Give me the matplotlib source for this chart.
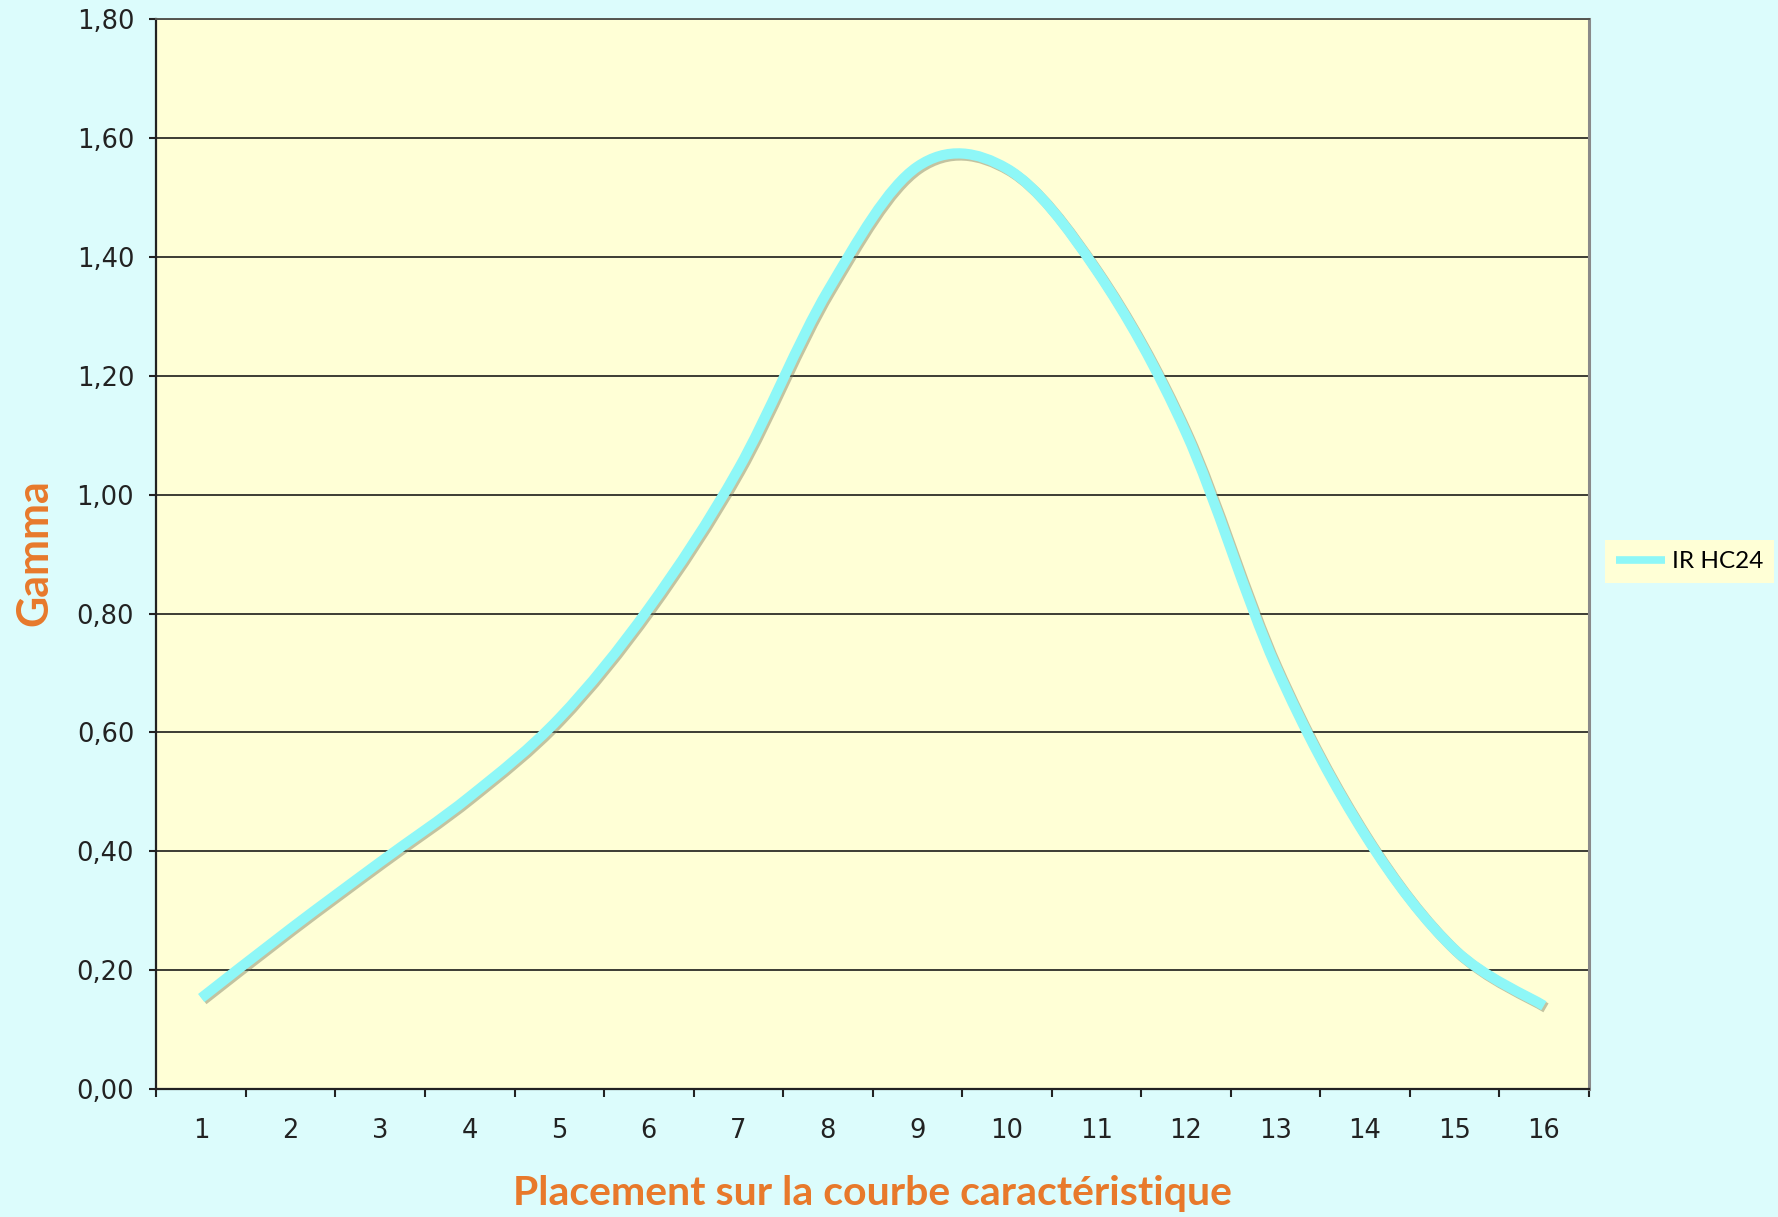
import matplotlib
matplotlib.use("Agg")
import matplotlib.pyplot as plt
import numpy as np
from matplotlib.path import Path
from matplotlib.patches import PathPatch
from matplotlib.lines import Line2D
import matplotlib.patheffects as pe
from matplotlib.ticker import FuncFormatter

# ---- data ----
categories = list(range(1, 17))
gamma_ir_hc24 = [0.153, 0.270, 0.382, 0.492, 0.624, 0.809, 1.043, 1.343,
                 1.552, 1.549, 1.378, 1.105, 0.713, 0.428, 0.235, 0.140]
series_name = "IR HC24"
y_ticks = [0.0, 0.2, 0.4, 0.6, 0.8, 1.0, 1.2, 1.4, 1.6, 1.8]
x_title = "Placement sur la courbe caractéristique"
y_title = "Gamma"

# ---- style ----
fig_bg = "#dcfcfc"
ax_bg = "#ffffd6"
line_col = "#8ef7f7"
orange = "#e8792b"
grid_col = "#3c3c34"

fig = plt.figure(figsize=(17.78, 12.17), dpi=100, facecolor=fig_bg)
ax = fig.add_axes([0.088, 0.1052, 0.8055, 0.8789])
ax.set_facecolor(ax_bg)

# smoothed line (Excel-style Catmull-Rom bezier) built from the data points
P = np.column_stack([categories, gamma_ir_hc24]).astype(float)
n = len(P)
verts = [P[0]]
codes = [Path.MOVETO]
for i in range(n - 1):
    pm = P[i - 1] if i > 0 else P[i]
    p2 = P[i + 2] if i + 2 < n else P[i + 1]
    c1 = P[i] + (P[i + 1] - pm) / 6.0
    c2 = P[i + 1] - (p2 - P[i]) / 6.0
    verts += [c1, c2, P[i + 1]]
    codes += [Path.CURVE4] * 3
path = Path(verts, codes)
patch = PathPatch(path, fill=False, edgecolor=line_col, lw=7.4,
                  capstyle="butt", joinstyle="round", zorder=3)
patch.set_path_effects([pe.SimpleLineShadow(offset=(1.5, -1.5), shadow_color="#7a7a60", alpha=0.45),
                        pe.Normal()])
ax.add_patch(patch)

ax.set_xlim(0.5, 16.5)
ax.set_ylim(0, 1.8)

# y axis
ax.set_yticks(y_ticks)
ax.yaxis.set_major_formatter(FuncFormatter(lambda v, p: f"{v:.2f}".replace(".", ",")))
ax.tick_params(axis="y", which="major", direction="out", length=5, width=1.5,
               color="#222222", labelsize=18.5, pad=11, labelcolor="#222222")
ax.grid(axis="y", color=grid_col, lw=1.4, zorder=1)
ax.set_axisbelow(True)

# x axis: labels at categories, ticks between categories
ax.set_xticks(categories)
ax.set_xticks(np.arange(0.5, 17.0, 1.0), minor=True)
ax.tick_params(axis="x", which="major", length=0, labelsize=18.5, pad=21, labelcolor="#222222")
ax.tick_params(axis="x", which="minor", direction="out", length=6, width=1.5, color="#222222")

for s in ["left", "bottom"]:
    ax.spines[s].set_color("#222222")
    ax.spines[s].set_linewidth(1.6)
ax.spines["right"].set_color("#8a8a8a")
ax.spines["right"].set_linewidth(2.2)
ax.spines["top"].set_color("#555550")
ax.spines["top"].set_linewidth(1.4)

# titles
fig.text(872.5 / 1778, 1 - 1194 / 1217, x_title, color=orange, fontsize=29.5,
         fontweight="bold", family="Lato", ha="center", va="center")
fig.text(34 / 1778, 1 - 553 / 1217, y_title, color=orange, fontsize=31,
         fontweight="bold", family="Lato", ha="center", va="center", rotation=90)

# legend
handle = Line2D([0], [0], color=line_col, lw=5.5, solid_capstyle="butt")
leg = fig.legend([handle], [series_name], loc="center left",
                 bbox_to_anchor=(1605 / 1778, 1 - 561.5 / 1217),
                 bbox_transform=fig.transFigure, frameon=True, fancybox=False,
                 facecolor=ax_bg, edgecolor=ax_bg, framealpha=1,
                 prop={"family": "Lato", "size": 17.5}, handlelength=2.0,
                 handletextpad=0.3, borderpad=0.45, borderaxespad=0)
leg.get_frame().set_linewidth(0)

fig.savefig("out.png", dpi=100, facecolor=fig_bg)
